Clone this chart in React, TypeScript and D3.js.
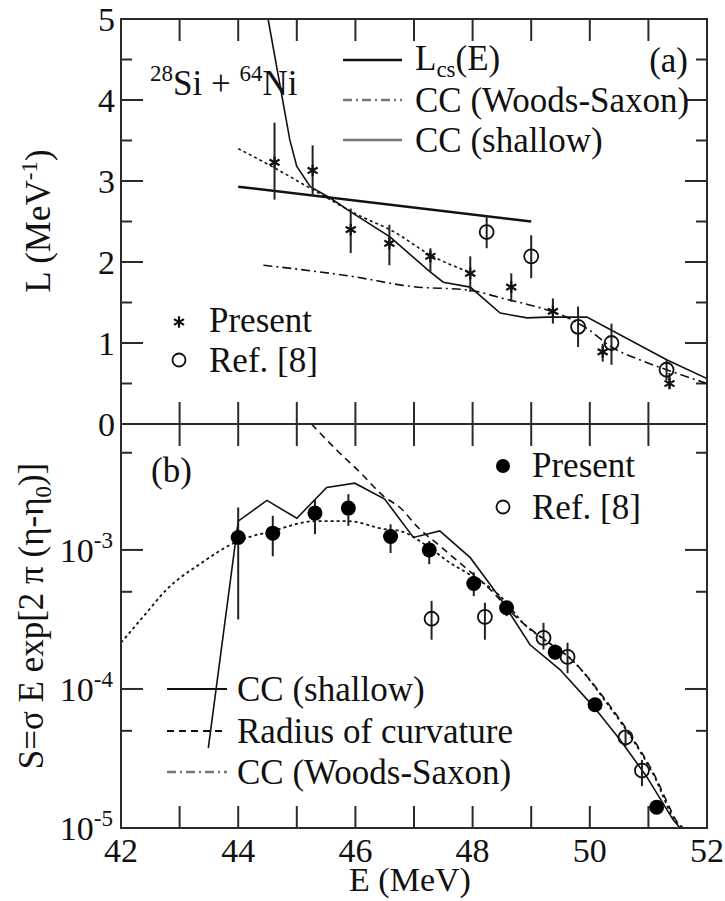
import React from "react";
import * as d3 from "d3";

// ---------- axis ticks ----------
const E_LABELS = [42, 44, 46, 48, 50, 52];
const E_TICKS = [42, 43, 44, 45, 46, 47, 48, 49, 50, 51, 52];
const L_LABELS = [0, 1, 2, 3, 4, 5];
const L_MINOR = [0.5, 1.5, 2.5, 3.5, 4.5];
const S_LABELS = [1e-5, 1e-4, 1e-3];
const S_EXPONENTS = ["-5", "-4", "-3"];
const S_MINOR = [5e-5, 5e-4, 5e-3];

// ---------- panel (a) data ----------
const presentA_E = [44.62, 45.27, 45.92, 46.58, 47.28, 47.96, 48.66, 49.37, 50.22, 51.36];
const presentA_L = [3.23, 3.13, 2.4, 2.23, 2.07, 1.86, 1.69, 1.39, 0.89, 0.5];
const presentA_lo = [2.77, 2.81, 2.11, 1.96, 1.88, 1.63, 1.51, 1.24, 0.77, 0.44];
const presentA_hi = [3.72, 3.44, 2.66, 2.46, 2.17, 2.07, 1.86, 1.55, 0.99, 0.63];

const refA_E = [48.24, 49.0, 49.8, 50.37, 51.31];
const refA_L = [2.37, 2.07, 1.2, 1.0, 0.67];
const refA_lo = [2.17, 1.8, 0.95, 0.73, 0.54];
const refA_hi = [2.58, 2.33, 1.45, 1.24, 0.79];

const lcsA_E = [44.0, 49.0];
const lcsA_L = [2.93, 2.5];

const shallowA_E = [44.51, 44.88, 45.0, 45.23, 45.57, 45.96, 46.59, 47.27, 47.5, 47.96, 48.47, 48.93, 49.27, 49.95, 51.32, 52.0];
const shallowA_L = [5.0, 3.51, 3.18, 2.93, 2.79, 2.6, 2.31, 1.88, 1.75, 1.69, 1.37, 1.31, 1.32, 1.32, 0.79, 0.56];

const dottedA_E = [44.0, 44.6, 45.23, 46.13, 46.59, 47.32, 48.0];
const dottedA_L = [3.4, 3.17, 2.91, 2.55, 2.4, 2.07, 1.86];

const wsA_E = [44.43, 45.96, 46.93, 47.96, 48.52, 49.26, 49.66, 49.95, 50.37, 50.86, 51.31, 52.0];
const wsA_L = [1.96, 1.82, 1.7, 1.65, 1.55, 1.41, 1.3, 1.18, 0.95, 0.79, 0.67, 0.5];

// ---------- panel (b) data ----------
const presentB_E = [44.0, 44.59, 45.31, 45.88, 46.6, 47.26, 48.02, 48.58, 49.41, 50.09, 51.14];
const presentB_S = [1.23e-3, 1.32e-3, 1.84e-3, 2.0e-3, 1.25e-3, 1.0e-3, 5.74e-4, 3.84e-4, 1.84e-4, 7.7e-5, 1.41e-5];
const presentB_lo = [3.16e-4, 9.0e-4, 1.3e-3, 1.49e-3, 9.5e-4, 7.9e-4, 4.65e-4, 3.34e-4, 1.63e-4, 6.9e-5, 1.28e-5];
const presentB_hi = [2.02e-3, 1.76e-3, 2.32e-3, 2.52e-3, 1.53e-3, 1.16e-3, 6.9e-4, 4.28e-4, 2.09e-4, 8.6e-5, 1.51e-5];

const refB_E = [47.3, 48.21, 49.21, 49.62, 50.61, 50.89];
const refB_S = [3.2e-4, 3.3e-4, 2.33e-4, 1.7e-4, 4.48e-5, 2.59e-5];
const refB_lo = [2.26e-4, 2.26e-4, 1.92e-4, 1.3e-4, 3.86e-5, 2.0e-5];
const refB_hi = [4.3e-4, 4.17e-4, 2.99e-4, 2.15e-4, 5.1e-5, 3.09e-5];

const shallowB_E = [43.49, 44.0, 44.49, 45.0, 45.51, 45.99, 46.5, 46.99, 47.44, 47.96, 48.24, 48.47, 48.98, 49.49, 50.06, 50.52, 50.97, 51.42, 51.54];
const shallowB_S = [3.76e-5, 1.61e-3, 2.27e-3, 1.69e-3, 2.81e-3, 3.02e-3, 2.32e-3, 1.23e-3, 1.37e-3, 8.8e-4, 6.1e-4, 4.5e-4, 2.08e-4, 1.38e-4, 7.5e-5, 4.3e-5, 2.34e-5, 1.15e-5, 1.0e-5];

const radiusB_E = [45.25, 45.7, 46.08, 46.5, 46.76, 47.07, 47.44, 47.78, 48.24, 48.81, 49.21, 49.72, 50.34, 50.74, 51.08, 51.48, 51.55];
const radiusB_S = [8.05e-3, 5.13e-3, 3.61e-3, 2.4e-3, 2.02e-3, 1.45e-3, 1.07e-3, 8.09e-4, 5.5e-4, 3.1e-4, 2.29e-4, 1.58e-4, 7.59e-5, 4.37e-5, 2.51e-5, 1.12e-5, 1.0e-5];

const wsB_E = [42.0, 42.4, 42.78, 43.35, 44.0, 44.59, 45.31, 45.88, 46.5, 46.76, 47.22, 47.61, 47.9, 48.47, 48.92, 49.21, 49.72, 50.34, 50.74, 51.08, 51.48, 51.6];
const wsB_S = [2.15e-4, 3.39e-4, 5.2e-4, 7.94e-4, 1.16e-3, 1.37e-3, 1.61e-3, 1.61e-3, 1.41e-3, 1.37e-3, 1.07e-3, 8.1e-4, 6.85e-4, 4.66e-4, 2.82e-4, 2.29e-4, 1.58e-4, 7.41e-5, 4.27e-5, 2.45e-5, 1.1e-5, 1.0e-5];

const FONT = "'Liberation Serif', 'Times New Roman', serif";
const FS = 35;
const TFS = 34;
const SS = 23;
const AX = "#2a2a2a";

export default function App() {
  const left = 121, right = 707, topA = 19, mid = 424, botB = 828;
  const x = d3.scaleLinear().domain([42, 52]).range([left, right]);
  const yA = d3.scaleLinear().domain([0, 5]).range([mid, topA]);
  const yB = d3.scaleLog().domain([1e-5, 8.05e-3]).range([botB, mid]);

  const zip = (a: number[], b: number[]) => a.map((v, i) => [v, b[i]] as [number, number]);

  const lineA = (curve: any) =>
    d3.line<[number, number]>().x((d) => x(d[0])).y((d) => yA(d[1])).curve(curve);
  const lineB = (curve: any) =>
    d3.line<[number, number]>().x((d) => x(d[0])).y((d) => yB(d[1])).curve(curve);

  const aster = d3.symbol().type(d3.symbolAsterisk).size(95)();

  const majorLen = 22, minorLen = 11;

  const xTicks = (yEdge: number, dir: number, key: string) =>
    E_TICKS.map((e) => (
      <line key={key + e} x1={x(e)} x2={x(e)} y1={yEdge} y2={yEdge + dir * majorLen} stroke={AX} strokeWidth={2} />
    ));

  return (
    <svg
      width={725}
      height={901}
      style={{ position: "absolute", left: 0, top: 0, background: "#fff" }}
      fontFamily={FONT}
    >
      <defs>
        <clipPath id="clipA">
          <rect x={left} y={topA} width={right - left} height={mid - topA} />
        </clipPath>
        <clipPath id="clipB">
          <rect x={left} y={mid} width={right - left} height={botB - mid} />
        </clipPath>
      </defs>
      <rect x={0} y={0} width={725} height={901} fill="#fff" />

      {/* ---------------- Panel (a) ---------------- */}
      {xTicks(topA, 1, "at")}
      {xTicks(mid, -1, "ab")}
      {L_LABELS.map((v) => (
        <g key={"la" + v}>
          <line x1={left} x2={left + majorLen} y1={yA(v)} y2={yA(v)} stroke={AX} strokeWidth={2} />
          <line x1={right} x2={right - majorLen} y1={yA(v)} y2={yA(v)} stroke={AX} strokeWidth={2} />
          <text x={115} y={yA(v)} dy="0.35em" textAnchor="end" fontSize={TFS} fill="#111">
            {v}
          </text>
        </g>
      ))}
      {L_MINOR.map((v) => (
        <g key={"lm" + v}>
          <line x1={left} x2={left + minorLen} y1={yA(v)} y2={yA(v)} stroke={AX} strokeWidth={2} />
          <line x1={right} x2={right - minorLen} y1={yA(v)} y2={yA(v)} stroke={AX} strokeWidth={2} />
        </g>
      ))}

      <g clipPath="url(#clipA)" fill="none" stroke="#111">
        <path d={lineA(d3.curveLinear)(zip(lcsA_E, lcsA_L)) || ""} strokeWidth={2.6} />
        <path d={lineA(d3.curveLinear)(zip(shallowA_E, shallowA_L)) || ""} strokeWidth={1.6} />
        <path d={lineA(d3.curveMonotoneX)(zip(dottedA_E, dottedA_L)) || ""} strokeWidth={1.6} strokeDasharray="3,3" />
        <path d={lineA(d3.curveMonotoneX)(zip(wsA_E, wsA_L)) || ""} strokeWidth={1.6} strokeDasharray="9,4,2,4" />
      </g>

      {/* error bars & markers (a) */}
      {presentA_E.map((e, i) => (
        <g key={"pa" + i}>
          <line x1={x(e)} x2={x(e)} y1={yA(presentA_lo[i])} y2={yA(presentA_hi[i])} stroke="#222" strokeWidth={2} />
          <path d={aster || ""} transform={`translate(${x(e)},${yA(presentA_L[i])})`} stroke="#111" strokeWidth={2.2} fill="none" />
        </g>
      ))}
      {refA_E.map((e, i) => (
        <g key={"ra" + i}>
          <line x1={x(e)} x2={x(e)} y1={yA(refA_lo[i])} y2={yA(refA_hi[i])} stroke="#222" strokeWidth={2} />
          <circle cx={x(e)} cy={yA(refA_L[i])} r={7} fill="none" stroke="#111" strokeWidth={1.8} />
        </g>
      ))}

      {/* panel (a) labels */}
      <text x={150} y={95} fontSize={FS} fill="#111">
        <tspan fontSize={SS} dy={-14}>28</tspan>
        <tspan dy={14}>Si + </tspan>
        <tspan fontSize={SS} dy={-14}>64</tspan>
        <tspan dy={14}>Ni</tspan>
      </text>
      <text x={688} y={60} dy="0.35em" textAnchor="end" fontSize={FS} fill="#111">(a)</text>

      {/* top legend */}
      <line x1={343} x2={402} y1={60} y2={60} stroke="#111" strokeWidth={2.6} />
      <line x1={343} x2={402} y1={100} y2={100} stroke="#777" strokeWidth={2.4} strokeDasharray="9,4,2,4" />
      <line x1={343} x2={402} y1={140} y2={140} stroke="#777" strokeWidth={2.6} />
      <text x={415} y={58} dy="0.35em" fontSize={FS} fill="#111">
        L<tspan fontSize={SS} dy={7}>cs</tspan>
        <tspan dy={-7}>(E)</tspan>
      </text>
      <text x={415} y={100} dy="0.35em" fontSize={FS} fill="#111">CC (Woods-Saxon)</text>
      <text x={415} y={140} dy="0.35em" fontSize={FS} fill="#111">CC (shallow)</text>

      {/* lower-left legend (a) */}
      <path d={aster || ""} transform="translate(179,322)" stroke="#111" strokeWidth={2.2} fill="none" />
      <text x={209} y={320} dy="0.35em" fontSize={FS} fill="#111">Present</text>
      <circle cx={179} cy={360} r={6.5} fill="none" stroke="#111" strokeWidth={1.8} />
      <text x={209} y={360} dy="0.35em" fontSize={FS} fill="#111">Ref. [8]</text>

      {/* y label (a) */}
      <text transform="translate(50,221) rotate(-90)" textAnchor="middle" fontSize={FS} fill="#111">
        L (MeV<tspan fontSize={SS} dy={-13}>-1</tspan>
        <tspan dy={13}>)</tspan>
      </text>

      {/* ---------------- Panel (b) ---------------- */}
      {xTicks(mid, 1, "bt")}
      {xTicks(botB, -1, "bb")}
      {S_LABELS.map((v, i) => (
        <g key={"sb" + v}>
          <line x1={left} x2={left + majorLen} y1={yB(v)} y2={yB(v)} stroke={AX} strokeWidth={2} />
          <line x1={right} x2={right - majorLen} y1={yB(v)} y2={yB(v)} stroke={AX} strokeWidth={2} />
          <text x={113} y={yB(v)} dy="0.35em" textAnchor="end" fontSize={TFS} fill="#111">
            10<tspan fontSize={SS} dy={-14}>{S_EXPONENTS[i]}</tspan>
          </text>
        </g>
      ))}
      {S_MINOR.map((v) => (
        <g key={"sm" + v}>
          <line x1={left} x2={left + minorLen} y1={yB(v)} y2={yB(v)} stroke={AX} strokeWidth={2} />
          <line x1={right} x2={right - minorLen} y1={yB(v)} y2={yB(v)} stroke={AX} strokeWidth={2} />
        </g>
      ))}
      {E_LABELS.map((e) => (
        <text key={"el" + e} x={x(e)} y={862} textAnchor="middle" fontSize={TFS} fill="#111">
          {e}
        </text>
      ))}
      <text x={410} y={891} textAnchor="middle" fontSize={TFS} fill="#111">E (MeV)</text>

      <g clipPath="url(#clipB)" fill="none" stroke="#111">
        <path d={lineB(d3.curveLinear)(zip(shallowB_E, shallowB_S)) || ""} strokeWidth={1.6} />
        <path d={lineB(d3.curveMonotoneX)(zip(radiusB_E, radiusB_S)) || ""} strokeWidth={1.6} strokeDasharray="7,5" />
        <path d={lineB(d3.curveMonotoneX)(zip(wsB_E, wsB_S)) || ""} strokeWidth={1.8} strokeDasharray="3,3" />
      </g>

      {presentB_E.map((e, i) => (
        <g key={"pb" + i}>
          <line x1={x(e)} x2={x(e)} y1={yB(presentB_lo[i])} y2={yB(presentB_hi[i])} stroke="#222" strokeWidth={2} />
          <circle cx={x(e)} cy={yB(presentB_S[i])} r={7.5} fill="#000" />
        </g>
      ))}
      {refB_E.map((e, i) => (
        <g key={"rb" + i}>
          <line x1={x(e)} x2={x(e)} y1={yB(refB_lo[i])} y2={yB(refB_hi[i])} stroke="#222" strokeWidth={2} />
          <circle cx={x(e)} cy={yB(refB_S[i])} r={7} fill="none" stroke="#111" strokeWidth={1.8} />
        </g>
      ))}

      <text x={151} y={470} dy="0.35em" fontSize={FS} fill="#111">(b)</text>

      {/* upper-right legend (b) */}
      <circle cx={503} cy={466} r={7} fill="#000" />
      <text x={532} y={465} dy="0.35em" fontSize={FS} fill="#111">Present</text>
      <circle cx={503} cy={507} r={6.5} fill="none" stroke="#111" strokeWidth={1.8} />
      <text x={532} y={507} dy="0.35em" fontSize={FS} fill="#111">Ref. [8]</text>

      {/* lower-left legend (b) */}
      <line x1={167} x2={227} y1={689} y2={689} stroke="#111" strokeWidth={1.8} />
      <line x1={167} x2={227} y1={731} y2={731} stroke="#111" strokeWidth={1.8} strokeDasharray="7,5" />
      <line x1={167} x2={227} y1={772} y2={772} stroke="#777" strokeWidth={2.6} strokeDasharray="9,4,2,4" />
      <text x={237} y={689} dy="0.35em" fontSize={FS} fill="#111">CC (shallow)</text>
      <text x={237} y={731} dy="0.35em" fontSize={FS} fill="#111">Radius of curvature</text>
      <text x={237} y={772} dy="0.35em" fontSize={FS} fill="#111">CC (Woods-Saxon)</text>

      {/* y label (b) */}
      <text transform="translate(43,616) rotate(-90)" textAnchor="middle" fontSize={FS} fill="#111">
        S=σ E exp[2 π (η-η<tspan fontSize={SS} dy={8}>0</tspan>
        <tspan dy={-8}>)]</tspan>
      </text>

      {/* frames */}
      <rect x={left} y={topA} width={right - left} height={mid - topA} fill="none" stroke={AX} strokeWidth={2} />
      <rect x={left} y={mid} width={right - left} height={botB - mid} fill="none" stroke={AX} strokeWidth={2} />
    </svg>
  );
}
